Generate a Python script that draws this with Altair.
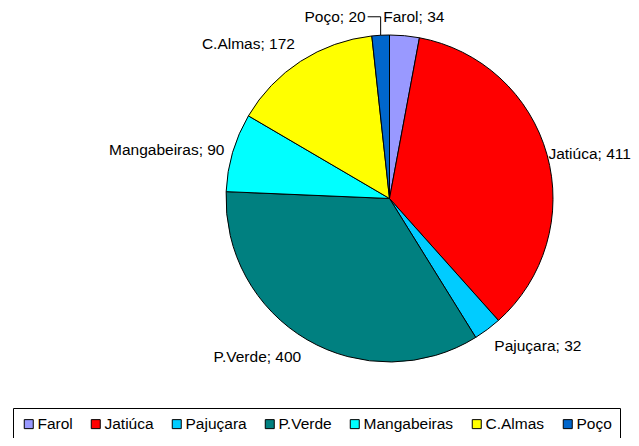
import altair as alt
import pandas as pd

categories = ["Farol", "Jatiúca", "Pajuçara", "P.Verde", "Mangabeiras", "C.Almas", "Poço"]
values = [34, 411, 32, 400, 90, 172, 20]
colors = ["#9999FF", "#FF0000", "#00CCFF", "#008080", "#00FFFF", "#FFFF00", "#0066CC"]

df = pd.DataFrame({"cat": categories, "value": values, "idx": list(range(len(categories)))})
df["label"] = df["cat"] + "; " + df["value"].astype(str)

CX, CY, R = 381.5, 190.5, 163.5   # pie centre / radius in plot pixels
FONT = "Liberation Sans"
FS = 15.5

base = (
    alt.Chart(df)
    .transform_window(cum="sum(value)", sort=[alt.SortField("idx")], frame=[None, 0])
    .transform_joinaggregate(total="sum(value)")
    .transform_calculate(mid="2*PI*(datum.cum - datum.value/2)/datum.total")
)

pie = alt.Chart(df).mark_arc(radius=R, stroke="black", strokeWidth=1).encode(
    theta=alt.Theta("value:Q", stack=True),
    color=alt.Color(
        "cat:N",
        scale=alt.Scale(domain=categories, range=colors),
        legend=alt.Legend(
            orient="none", legendX=5, legendY=400, direction="horizontal", columns=7,
            gridAlign="each", title=None, symbolType="square", symbolSize=81,
            symbolStrokeColor="black", symbolStrokeWidth=1, labelFont=FONT,
            labelFontSize=FS, labelColor="black", labelOffset=1, columnPadding=15,
            padding=8, strokeColor="black", fillColor="white", symbolOpacity=1,
        ),
    ),
    order=alt.Order("idx:Q"),
    x=alt.value(CX),
    y=alt.value(CY),
)


def lab(names, align, baseline, radius, dx=0):
    return (
        base.transform_filter(alt.FieldOneOfPredicate(field="cat", oneOf=names))
        .mark_text(align=align, baseline=baseline, radius=radius, dx=dx,
                   font=FONT, fontSize=FS, color="black")
        .encode(theta=alt.Theta("mid:Q", scale=None), text="label:N",
                x=alt.value(CX), y=alt.value(CY))
    )


labels = [
    lab(["Jatiúca"], "left", "middle", 165),
    lab(["Pajuçara"], "left", "top", 175),
    lab(["P.Verde"], "right", "top", 175),
    lab(["Mangabeiras"], "right", "middle", 172),
    lab(["C.Almas"], "right", "bottom", 174),
    lab(["Farol"], "left", "middle", 182, dx=-23),
]

RL = 182
lead = base.transform_filter(alt.datum.cat == "Poço").transform_calculate(
    px=f"{CX} + {R}*sin(datum.mid)",
    py0=f"{CY} - {R}*cos(datum.mid)",
    py1=f"{CY} - {RL}*cos(datum.mid)",
    px2=f"{CX} + {R}*sin(datum.mid) - 13",
    px3=f"{CX} + {R}*sin(datum.mid) - 15",
)
lead_v = lead.mark_rule(color="black", strokeWidth=1).encode(
    x=alt.X("px:Q", scale=None, axis=None),
    y=alt.Y("py0:Q", scale=None, axis=None),
    y2="py1:Q",
)
lead_h = lead.mark_rule(color="black", strokeWidth=1).encode(
    x=alt.X("px:Q", scale=None, axis=None),
    x2="px2:Q",
    y=alt.Y("py1:Q", scale=None, axis=None),
)
poco_lab = lead.mark_text(align="right", baseline="middle", font=FONT, fontSize=FS,
                          color="black").encode(
    x=alt.X("px3:Q", scale=None, axis=None),
    y=alt.Y("py1:Q", scale=None, axis=None),
    text="label:N",
)

chart = (
    alt.layer(pie, *labels, lead_v, lead_h, poco_lab)
    .properties(width=623, height=430, autosize=alt.AutoSizeParams(type="none"),
                padding=0, background="white")
    .configure_view(stroke="transparent", strokeWidth=0)
)

chart.save("out.html", embed_options={"renderer": "svg", "actions": False})
